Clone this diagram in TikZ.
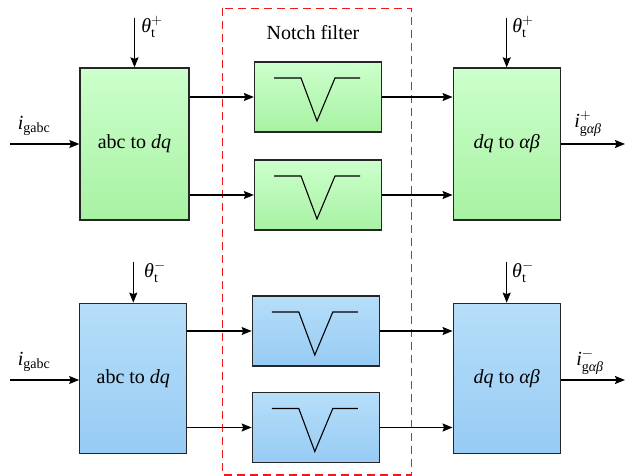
\documentclass[tikz,border=0pt]{standalone}
\usepackage{amsmath}
\usepackage{fontspec}
\setmainfont{Liberation Serif}
\usetikzlibrary{arrows.meta}
\definecolor{verdeA}{HTML}{CCFFCC}
\definecolor{verdeB}{HTML}{A8F2A3}
\definecolor{azulA}{HTML}{B6DEF9}
\definecolor{azulB}{HTML}{97CBF4}
\definecolor{rojoNF}{HTML}{F01818}

\begin{document}
\begin{tikzpicture}[x=1pt,y=-1pt,line width=1.3pt,>={Stealth[length=10pt,width=8pt,inset=1.5pt]},
  font=\fontsize{20}{24}\selectfont,
  verde/.style={draw=black!85,top color=verdeA,bottom color=verdeB,inner sep=0pt},
  azul/.style={draw=black!85,top color=azulA,bottom color=azulB,inner sep=0pt},
  notchbox/.style={minimum width=127,minimum height=70}]
  \useasboundingbox (0,0) rectangle (625,476);
  % bloques de secuencia positiva
  \node[verde,minimum width=109,minimum height=152] (abcP) at (134.5,144) {abc to \textit{dq}};
  \node[verde,notchbox] (nfP1) at (318,97) {};
  \node[verde,notchbox] (nfP2) at (318,195) {};
  \node[verde,minimum width=107,minimum height=152] (dqP) at (506.7,144) {\textit{dq} to \textit{αβ}};
  % bloques de secuencia negativa
  \node[azul,minimum width=107,minimum height=150] (abcN) at (133.3,378.3) {abc to \textit{dq}};
  \node[azul,notchbox] (nfN1) at (315.8,331) {};
  \node[azul,notchbox] (nfN2) at (315.8,427.5) {};
  \node[azul,minimum width=107,minimum height=150] (dqN) at (506.7,378.3) {\textit{dq} to \textit{αβ}};
  % simbolo del filtro notch
  \foreach \n in {nfP1,nfP2,nfN1,nfN2} \draw[line width=1.1pt] ([shift={(-44,-19)}]\n.center) -- ++(27,0) -- ++(16,43) -- ++(18,-43) -- ++(25,0);
  % recuadro notch filter
  \draw[rojoNF,dash pattern=on 8pt off 5pt] (222.7,8.5) rectangle (411.3,475);
  \node (lblNF) at (313,33) {Notch filter};
  % entradas y salidas
  \coordinate (inP) at (10,144);
  \coordinate (inN) at (10,380);
  \coordinate (outP) at (625,144);
  \coordinate (outN) at (625,380);
  \coordinate (thP1) at (134.5,18);
  \coordinate (thP2) at (506.7,18);
  \coordinate (thN1) at (133.3,262);
  \coordinate (thN2) at (506.7,262);
  \draw[->] (inP) -- (abcP);
  \draw[->] (inN) -- (abcN.west |- inN);
  \draw[->] (dqP) -- (outP);
  \draw[->] (dqN.east |- outN) -- (outN);
  \draw[->] (thP1) -- (abcP.north);
  \draw[->] (thP2) -- (dqP.north);
  \draw[->] (thN1) -- (abcN.north);
  \draw[->] (thN2) -- (dqN.north);
  % conexiones a traves de los filtros
  \foreach \a/\f/\b in {abcP/nfP1/dqP,abcP/nfP2/dqP,abcN/nfN1/dqN,abcN/nfN2/dqN} {
    \draw[->] (\a.east |- \f) -- (\f);
    \draw[->] (\f) -- (\b.west |- \f);
  }
  % etiquetas
  \node (lblInP) at (34,126) {$\textit{i}_{\text{gabc}}$};
  \node (lblInN) at (34,362) {$\textit{i}_{\text{gabc}}$};
  \node (lblThP1) at (152,27) {$\textit{θ}_{\text{t}}^{+}$};
  \node (lblThP2) at (523,27) {$\textit{θ}_{\text{t}}^{+}$};
  \node (lblThN1) at (155,272) {$\textit{θ}_{\text{t}}^{-}$};
  \node (lblThN2) at (523,272) {$\textit{θ}_{\text{t}}^{-}$};
  \node (lblOutP) at (588,124) {$\textit{i}_{\text{g\textit{αβ}}}^{+}$};
  \node (lblOutN) at (590,362) {$\textit{i}_{\text{g\textit{αβ}}}^{-}$};
\end{tikzpicture}
\end{document}
